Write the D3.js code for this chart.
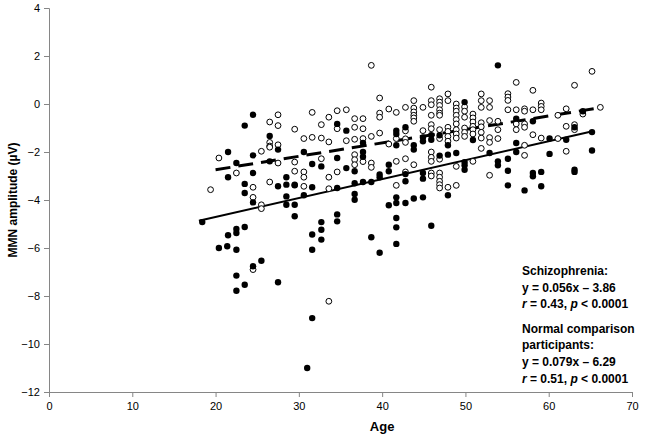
<!DOCTYPE html>
<html>
<head>
<meta charset="utf-8">
<script src="https://cdn.jsdelivr.net/npm/d3@7/dist/d3.min.js"></script>
<style>
  body { margin: 0; background: #fff; }
  svg { display: block; }
  text { font-family: "Liberation Sans", Arial, sans-serif; }
</style>
</head>
<body>
<svg id="chart" width="653" height="439"></svg>
<script>
// open circles, dashed fit
const schizophrenia = [
  [26.5,-0.75],[27.5,-0.45],[27.5,-0.9],[26.5,-1.6],[26.5,-1.75],[27.5,-1.7],[29.5,-1.05],
  [38.7,1.61],[39.7,0.25],[31.6,-0.35],[34.6,-0.28],[35.7,-0.24],[33.6,-0.55],[34.6,-1.03],[32.7,-0.86],
  [36.7,-0.61],[37.7,-0.61],[36.7,-0.97],[37.7,-1.03],[39.7,-0.38],[39.7,-0.55],[40.8,-0.21],[41.7,-0.35],
  [30.6,-1.44],[31.6,-1.39],[32.7,-1.42],[33.6,-1.58],[35.7,-1.53],[36.7,-1.47],[37.7,-1.44],[38.7,-1.35],
  [39.7,-1.21],[41.7,-1.44],[40.8,-1.67],
  [45.9,0.7],[47.9,0.42],[51.9,0.42],[43.8,0.14],[45.9,0.14],[45.9,-0.03],[46.9,0.22],[46.9,0.08],
  [46.9,-0.06],[46.9,-0.24],[46.9,-0.38],[46.9,-0.47],[47.9,0.14],[42.8,-0.14],[43.8,-0.17],[43.8,-0.33],
  [43.8,-0.47],[43.8,-0.58],[43.8,-0.72],[44.9,-0.14],[45.9,-0.47],[48.9,0],[48.9,-0.17],[48.9,-0.3],
  [48.9,-0.47],[48.9,-0.65],[48.9,-0.83],[49.9,-0.12],[49.9,-0.3],[49.9,-0.55],[50.9,-0.42],[50.9,-0.58],
  [50.9,-0.75],[50.9,-0.93],[50.9,-1.07],[50.9,-1.25],[51.9,0.14],[51.9,-0.14],[52.9,0.14],[52.9,-0.14],
  [52.9,-0.69],[53.9,-0.72],[53.9,-1.07],[53.9,-1.44],[42.8,-1.12],[44.9,-1.11],[45.9,-0.86],[45.9,-1.03],
  [46.9,-1.07],[46.9,-1.44],[47.9,-0.97],[47.9,-1.14],[47.9,-1.35],[47.9,-1.55],[48.9,-1.07],[48.9,-1.25],
  [48.9,-1.42],[49.9,-1.0],[49.9,-1.18],[49.9,-1.35],[51.9,-0.78],[51.9,-0.95],[51.9,-1.18],[51.9,-1.42],
  [52.9,-1.4],[52.9,-1.6],[42.8,-1.45],[42.8,-1.6],
  [65.2,1.36],[56.1,0.9],[63.1,0.78],[58.1,0.57],[55.1,0.43],[55.1,0.29],[55.1,0.15],[59.1,0.04],
  [59.1,-0.1],[55.1,-0.24],[56.1,-0.24],[57.1,-0.2],[57.1,-0.3],[58.1,-0.24],[59.1,-0.24],[62.1,-0.2],
  [61.1,-0.47],[64.1,-0.42],[66.2,-0.14],[56.1,-0.83],[56.1,-1.07],[57.1,-0.83],[57.1,-0.97],[62.1,-0.93],
  [63.1,-0.86],[63.1,-1.07],[58.1,-1.28],[59.1,-1.42],[61.1,-1.44],[57.1,-1.72],
  [20.4,-2.25],[25.5,-1.97],[26.5,-1.8],[27.5,-2.46],[29.5,-2.42],[29.5,-2.8],[22.5,-2.875],[19.4,-3.57],
  [24.5,-3.47],[24.5,-3.89],[26.5,-3.25],[25.5,-4.2],[25.5,-4.36],
  [32.7,-2.28],[36.7,-2.11],[36.7,-2.32],[36.7,-2.53],[37.7,-2.4],[38.7,-2.46],[38.7,-2.64],[34.6,-2.83],
  [30.6,-2.83],[30.6,-3.05],[33.6,-3.05],[41.7,-2.39],[30.6,-3.43],[33.6,-3.53],[41.7,-3.39],
  [42.8,-2.28],[43.8,-2.53],[45.9,-2.0],[45.9,-2.22],[45.9,-2.39],[46.9,-2.3],[48.9,-2.6],[50.9,-2.39],
  [51.9,-1.85],[52.9,-2.97],[42.8,-2.83],[45.9,-2.875],[45.9,-3.0],[46.9,-2.875],[46.9,-3.05],[46.9,-3.22],
  [46.9,-3.36],[46.9,-3.5],[47.9,-3.47],[48.9,-3.39],
  [57.1,-2.14],[62.1,-1.97],[33.6,-8.22],[24.5,-6.9]
];

// filled circles, solid fit
const comparison = [
  [24.5,-0.45],[23.5,-0.9],[26.5,-1.33],
  [34.6,-0.83],[35.7,-1.11],[41.7,-1.11],[41.7,-1.25],[37.7,-1.625],[41.7,-1.72],
  [53.9,1.61],[49.9,0.08],[42.8,-0.97],[44.9,-1.39],[44.9,-1.55],[45.9,-1.3],[45.9,-1.49],[46.9,-1.3],
  [47.9,-1.72],[50.9,-1.5],[43.8,-1.72],
  [56.1,-0.61],[58.1,-0.72],[63.1,-0.97],[65.2,-1.17],[60.1,-1.44],[62.1,-1.49],[56.1,-1.625],[64.1,-0.3],
  [21.5,-2.0],[24.5,-2.14],[27.5,-1.9],[22.5,-2.46],[26.5,-2.39],[21.5,-3.05],[24.5,-2.875],[23.5,-3.33],
  [23.5,-3.71],[27.5,-3.43],[28.5,-3.05],[28.5,-3.36],[28.5,-3.85],[29.5,-3.36],[29.5,-4.2],[29.5,-4.68],
  [24.5,-4.1],[18.4,-4.92],[21.5,-5.47],[22.5,-5.21],[22.5,-5.375],[23.5,-5.125],[28.5,-4.2],
  [30.6,-2.0],[31.6,-2.5],[32.7,-2.6],[34.6,-2.25],[37.7,-2.0],[37.7,-2.2],[35.7,-2.67],[36.7,-2.8],
  [39.7,-2.94],[39.7,-3.05],[40.8,-2.53],[40.8,-2.8],[36.7,-3.3],[37.7,-3.25],[38.7,-3.25],[29.5,-3.39],
  [31.6,-3.47],[34.6,-3.5],[30.6,-3.8],[36.7,-3.75],[36.7,-3.99],[40.8,-4.22],[41.7,-3.89],[41.7,-4.125],
  [34.6,-4.6],[34.6,-4.89],[32.7,-4.92],[32.7,-5.24],[31.6,-5.44],[41.7,-4.75],[41.7,-5.14],[38.7,-5.55],
  [43.8,-1.9],[46.9,-2.15],[47.9,-2.11],[48.9,-2.04],[49.9,-2.42],[49.9,-2.55],[49.9,-2.74],[52.9,-2.04],
  [53.9,-2.39],[53.9,-2.55],[42.8,-2.92],[42.8,-3.22],[44.9,-2.875],[44.9,-3.11],[47.9,-3.8],[42.8,-4.125],
  [43.8,-3.94],[44.9,-3.89],[45.9,-5.07],
  [55.1,-2.28],[56.1,-2.0],[55.1,-2.78],[58.1,-2.875],[58.1,-3.01],[59.1,-2.83],[55.1,-3.39],[57.1,-3.6],
  [59.1,-3.43],[60.1,-2.08],[63.1,-2.74],[63.1,-2.83],[65.2,-1.94],
  [20.4,-6.0],[21.4,-5.93],[22.5,-6.07],[25.5,-6.53],[24.5,-6.76],[22.5,-7.15],[23.5,-7.53],[22.5,-7.78],
  [27.5,-7.43],
  [32.7,-5.65],[31.6,-6.07],[39.7,-6.2],[41.7,-5.83],[31.6,-8.92],[31.0,-11.0]
];

// fitted lines: [slope, intercept, ageFrom, ageTo]
const schizFit = [0.056, -3.86, 20, 66];
const compFit = [0.079, -6.29, 18, 65];

const xTicks = [0, 10, 20, 30, 40, 50, 60, 70];
const yTicks = [-12, -10, -8, -6, -4, -2, 0, 2, 4];

const notes = [
  ["Schizophrenia:"],
  ["y = 0.056x \u2013 3.86"],
  ["r", " = 0.43, ", "p", " < 0.0001"],
  null,
  ["Normal comparison"],
  ["participants:"],
  ["y = 0.079x \u2013 6.29"],
  ["r", " = 0.51, ", "p", " < 0.0001"]
];

const width = 653, height = 439;
const margin = { top: 8, right: 21, bottom: 47, left: 49 };
const innerWidth = width - margin.left - margin.right,
  innerHeight = height - margin.top - margin.bottom;

const x = d3.scaleLinear().domain([0, 70]).range([0, innerWidth]);
const y = d3.scaleLinear().domain([-12, 4]).range([innerHeight, 0]);

const svg = d3.select("#chart");
const g = svg.append("g").attr("transform", `translate(${margin.left},${margin.top})`);

const xAxis = g.append("g")
  .attr("transform", `translate(0,${innerHeight})`)
  .call(d3.axisBottom(x).tickValues(xTicks).tickSize(5).tickPadding(5));
const yAxis = g.append("g")
  .call(d3.axisLeft(y).tickValues(yTicks).tickSize(5).tickPadding(4));
[xAxis, yAxis].forEach((a) => {
  a.attr("font-family", null).attr("font-size", null);
  a.selectAll("path, line").attr("stroke", "#868686");
  a.selectAll("text").attr("font-size", 11).attr("fill", "#000");
});

// fit lines
const fitLine = (f) => [[f[2], f[0] * f[2] + f[1]], [f[3], f[0] * f[3] + f[1]]];
const line = d3.line().x((d) => x(d[0])).y((d) => y(d[1]));
g.append("path").attr("d", line(fitLine(schizFit)))
  .attr("stroke", "#000").attr("stroke-width", 3).attr("stroke-dasharray", "15,8").attr("fill", "none");
g.append("path").attr("d", line(fitLine(compFit)))
  .attr("stroke", "#000").attr("stroke-width", 2).attr("fill", "none");

g.selectAll("circle.open").data(schizophrenia).join("circle")
  .attr("class", "open")
  .attr("cx", (d) => x(d[0])).attr("cy", (d) => y(d[1])).attr("r", 2.9)
  .attr("fill", "#fff").attr("stroke", "#000").attr("stroke-width", 1);
g.selectAll("circle.filled").data(comparison).join("circle")
  .attr("class", "filled")
  .attr("cx", (d) => x(d[0])).attr("cy", (d) => y(d[1])).attr("r", 3.2)
  .attr("fill", "#000");

// axis titles
svg.append("text").attr("x", margin.left + x(40)).attr("y", 431)
  .attr("text-anchor", "middle").attr("font-size", 13).attr("font-weight", "bold").text("Age");
svg.append("text").attr("transform", `translate(17,${margin.top + innerHeight / 2}) rotate(-90)`)
  .attr("text-anchor", "middle").attr("font-size", 12).attr("font-weight", "bold")
  .text("MMN amplitude (\u00b5V)");

// regression notes
const noteY = [275, 292, 308, 0, 333, 349, 366, 383];
notes.forEach((parts, i) => {
  if (!parts) return;
  const t = svg.append("text").attr("x", 522).attr("y", noteY[i])
    .attr("font-size", 12).attr("font-weight", "bold");
  parts.forEach((p) => {
    t.append("tspan").attr("font-style", p === "r" || p === "p" ? "italic" : "normal").text(p);
  });
});
</script>
</body>
</html>
